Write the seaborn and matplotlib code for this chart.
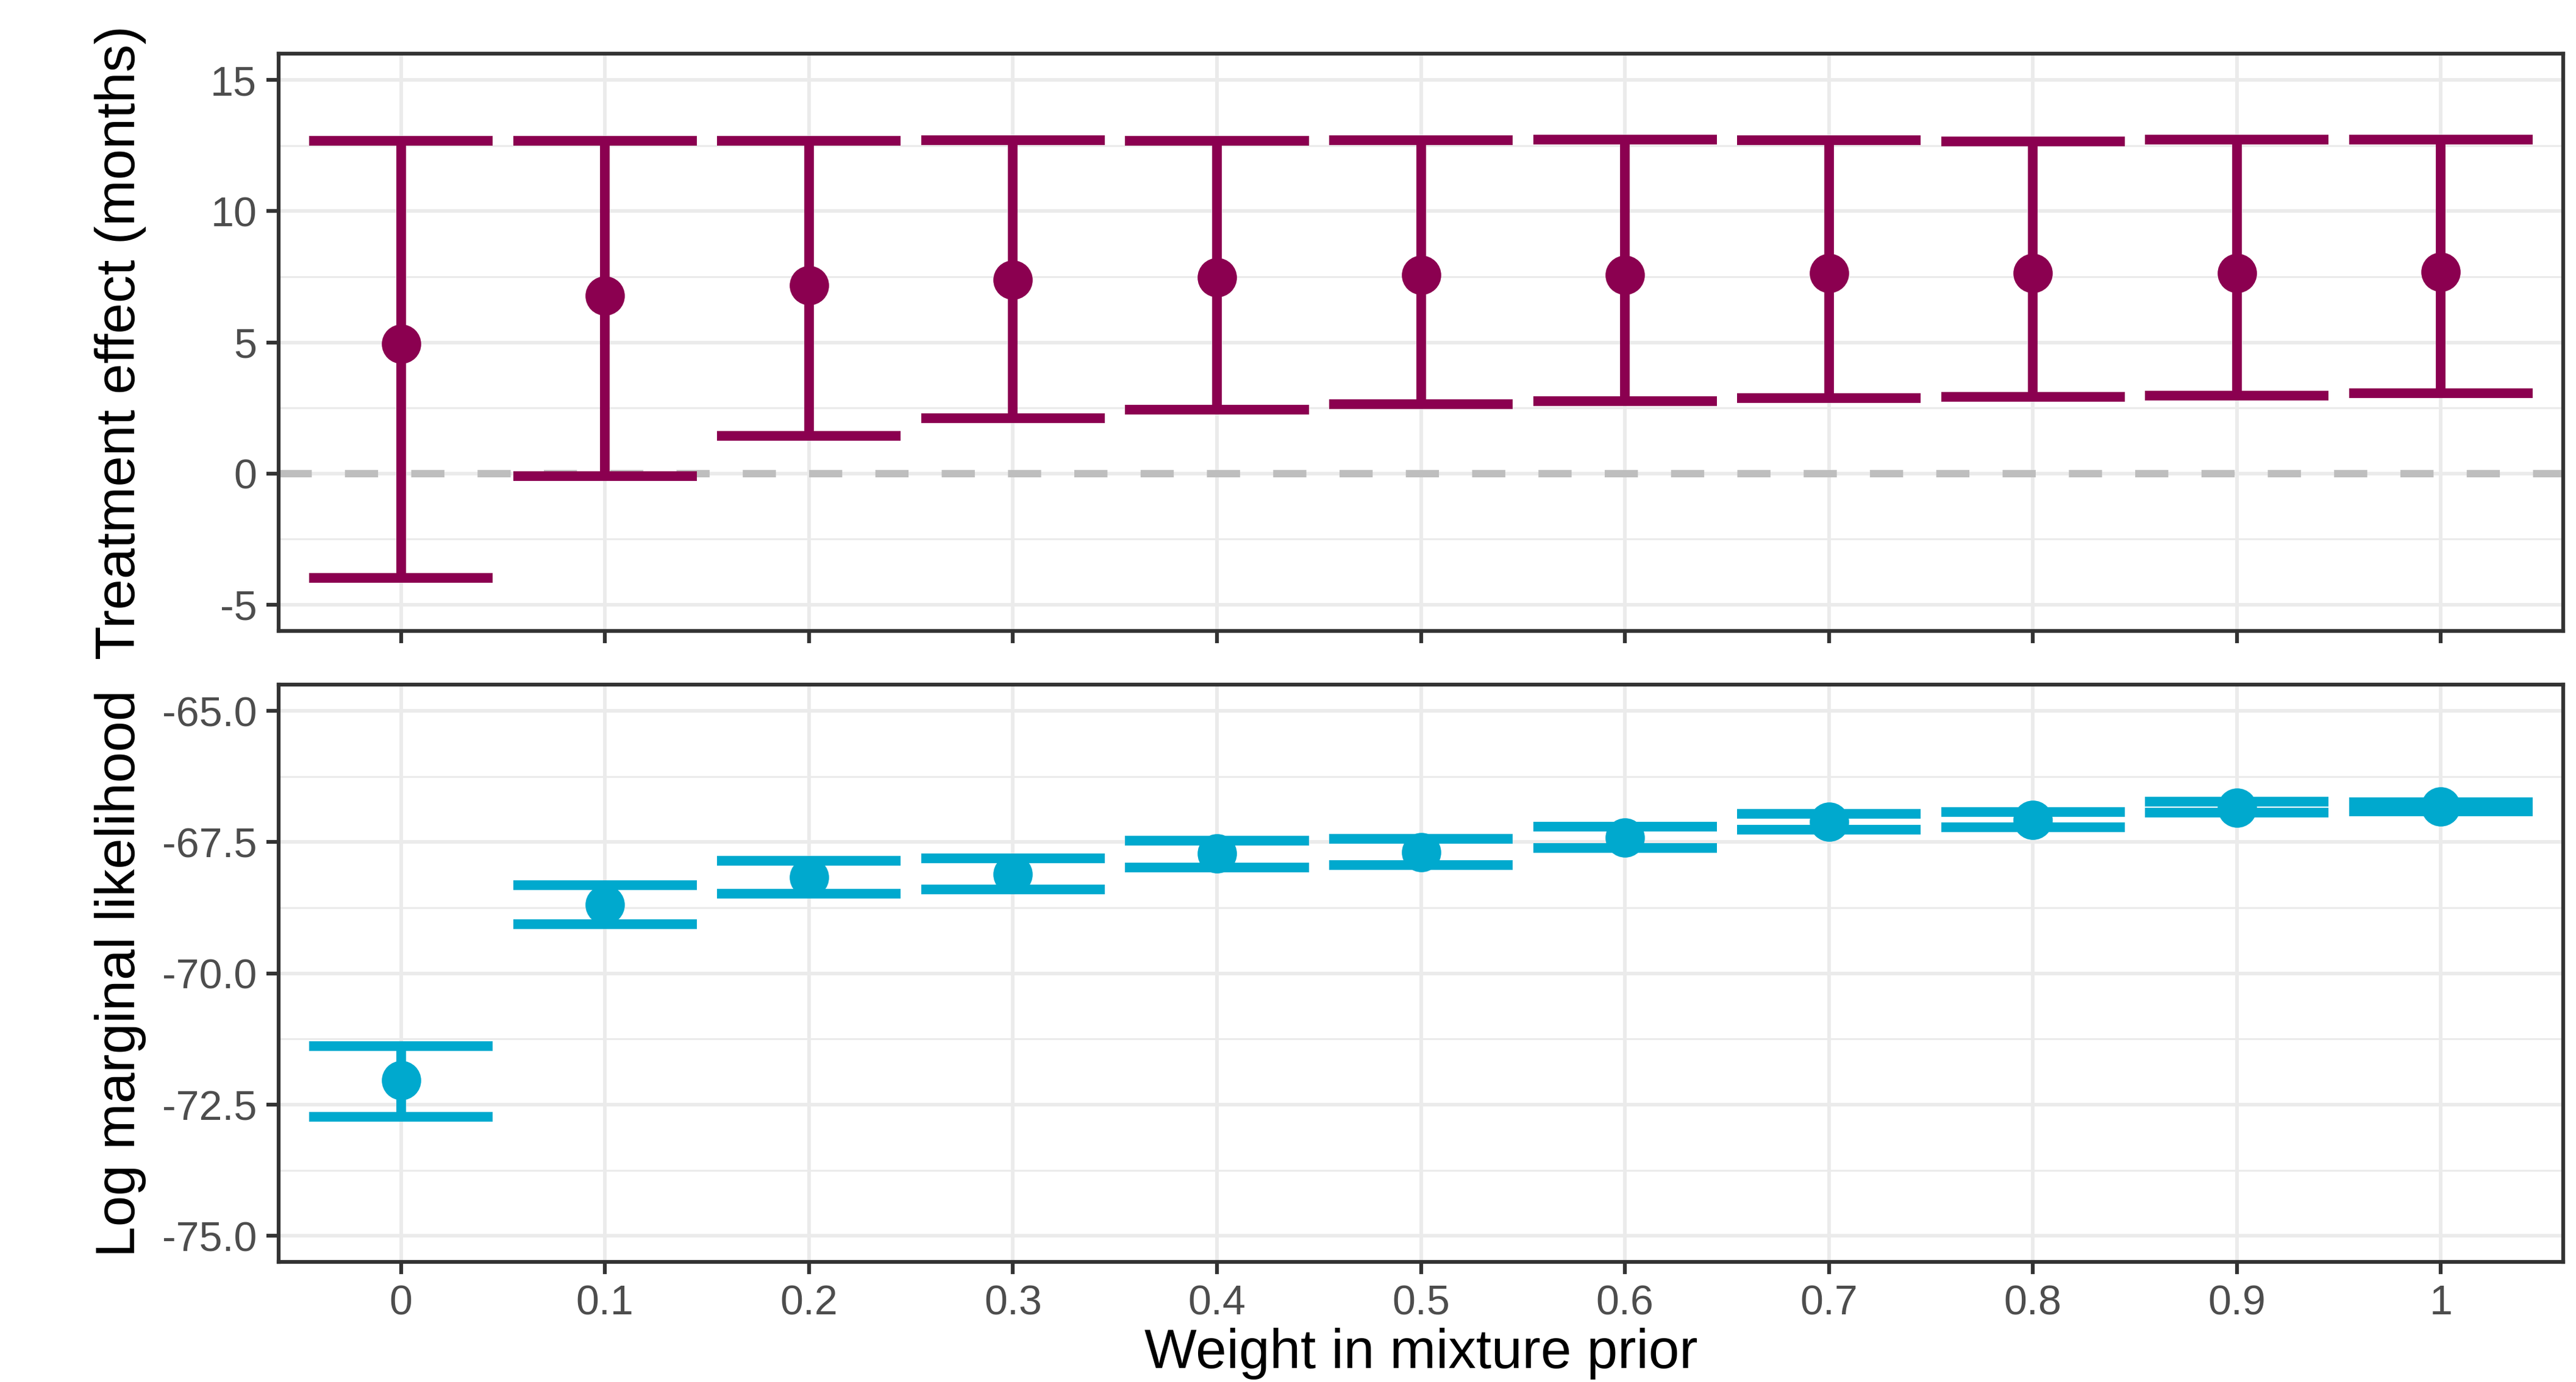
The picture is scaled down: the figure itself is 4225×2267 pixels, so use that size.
import matplotlib
matplotlib.use("Agg")
import matplotlib.pyplot as plt
import seaborn as sns
import numpy as np
import pandas as pd

# data
weights = ["0", "0.1", "0.2", "0.3", "0.4", "0.5", "0.6", "0.7", "0.8", "0.9", "1"]
te_est = [4.95, 6.78, 7.18, 7.38, 7.48, 7.57, 7.57, 7.64, 7.65, 7.65, 7.69]
te_lower = [-3.99, -0.11, 1.43, 2.10, 2.44, 2.64, 2.75, 2.87, 2.93, 2.96, 3.05]
te_upper = [12.69, 12.69, 12.69, 12.70, 12.69, 12.70, 12.74, 12.70, 12.67, 12.74, 12.72]
lml_est = [-72.04, -68.69, -68.17, -68.11, -67.72, -67.69, -67.41, -67.11, -67.08, -66.84, -66.82]
lml_lower = [-72.73, -69.06, -68.48, -68.40, -67.98, -67.94, -67.61, -67.26, -67.22, -66.94, -66.91]
lml_upper = [-71.38, -68.32, -67.86, -67.81, -67.47, -67.44, -67.20, -66.96, -66.93, -66.73, -66.74]

purple = "#8B0050"
cyan = "#00A9CE"

sns.set_style("white")
plt.rcParams['font.family'] = ['Liberation Sans', 'DejaVu Sans']

df = pd.DataFrame({"pos": np.arange(len(weights)), "weight": weights,
                   "te": te_est, "te_lo": te_lower, "te_hi": te_upper,
                   "lml": lml_est, "lml_lo": lml_lower, "lml_hi": lml_upper})

fig = plt.figure(figsize=(4225 / 300, 2267 / 300), dpi=300)
ax1 = fig.add_axes([0.10817, 0.54358, 0.88686, 0.41742])
ax2 = fig.add_axes([0.10817, 0.08668, 0.88686, 0.41795])

lw = 3.8
half = 0.45  # errorbar width 0.9 of one category
title_size = 21.8


def panel(ax, est, lo, hi, color, ylim, major, minor):
    # grid like theme_bw
    for y in minor:
        ax.axhline(y, color="#EBEBEB", lw=0.75, zorder=0)
    for y in major:
        ax.axhline(y, color="#EBEBEB", lw=1.4, zorder=0)
    for x in df["pos"]:
        ax.axvline(x, color="#EBEBEB", lw=1.4, zorder=0)
    ax.vlines(df["pos"], df[lo], df[hi], color=color, lw=lw, capstyle="butt", zorder=3)
    ax.hlines(df[hi], df["pos"] - half, df["pos"] + half, color=color, lw=lw,
              capstyle="butt", zorder=3)
    ax.hlines(df[lo], df["pos"] - half, df["pos"] + half, color=color, lw=lw,
              capstyle="butt", zorder=3)
    sns.scatterplot(data=df, x="pos", y=est, color=color, s=240, linewidth=0,
                    ax=ax, zorder=4)
    ax.set_xlim(-0.6, len(weights) - 0.4)
    ax.set_ylim(*ylim)
    ax.set_yticks(major)
    ax.set_xticks(df["pos"])
    for sp in ax.spines.values():
        sp.set_color("#333333")
        sp.set_linewidth(1.5)
        sp.set_visible(True)
        sp.set_zorder(5)
    ax.tick_params(axis="both", which="major", length=4.8, width=1.5, color="#333333",
                   labelsize=16.4, labelcolor="#4D4D4D", pad=3.8,
                   bottom=True, left=True)


# top panel: treatment effect
ax1.axhline(0, color="#BEBEBE", lw=2.9, dashes=(4.5, 4.5), zorder=2)
panel(ax1, "te", "te_lo", "te_hi", purple, (-6, 16),
      [-5, 0, 5, 10, 15], [-2.5, 2.5, 7.5, 12.5])
ax1.set_yticklabels(["-5", "0", "5", "10", "15"])
ax1.set_xticklabels([])
ax1.set_xlabel("")
ax1.set_ylabel("Treatment effect (months)", fontsize=title_size, color="black")
ax1.yaxis.set_label_coords(-0.058, 0.5)

# bottom panel: log marginal likelihood
panel(ax2, "lml", "lml_lo", "lml_hi", cyan, (-75.5, -64.5),
      [-75, -72.5, -70, -67.5, -65], [-73.75, -71.25, -68.75, -66.25])
ax2.set_yticklabels(["-75.0", "-72.5", "-70.0", "-67.5", "-65.0"])
ax2.set_xticklabels(weights)
ax2.set_xlabel("Weight in mixture prior", fontsize=title_size, color="black")
ax2.xaxis.set_label_coords(0.5, -0.113)
ax2.set_ylabel("Log marginal likelihood", fontsize=title_size, color="black")
ax2.yaxis.set_label_coords(-0.058, 0.5)

fig.savefig("out.png", dpi=300)
